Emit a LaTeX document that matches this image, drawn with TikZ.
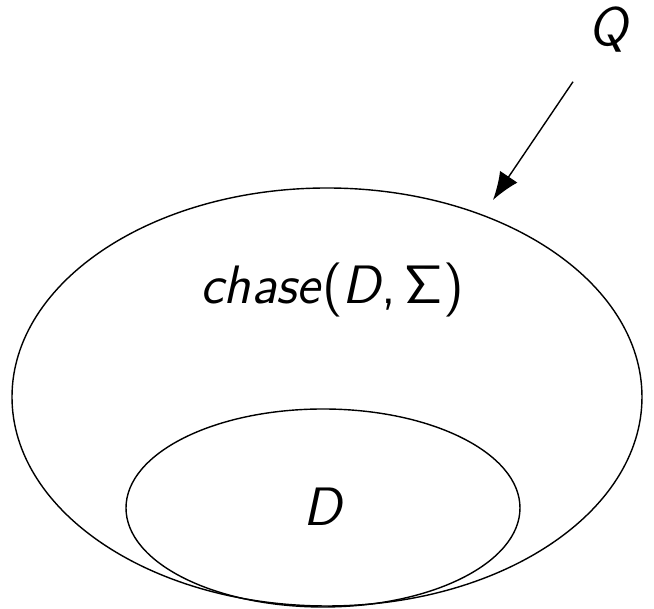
\documentclass[tikz,border=0pt]{standalone}
\usepackage{fix-cm}
\usepackage{amsmath,amssymb}
\usepackage{tikz}
\usetikzlibrary{arrows.meta, positioning, shapes.geometric}
\tikzset{
  setellipse/.style={draw, ellipse, thin, inner sep=0pt},
  setlabel/.style={font=\sffamily\itshape\fontsize{15.4}{18}\selectfont},
  queryarrow/.style={-{Latex[length=2.8mm, width=2.1mm]}, thin},
}
\newcommand{\chaselabel}{\textit{chase}\textup{(}\textit{D}\textup{,}\,\textup{$\mathsf{\Sigma}$}\textup{)}}

\begin{document}
\begin{tikzpicture}[x=1cm, y=1cm]
  \useasboundingbox (0,0) rectangle (6.54,6.09);
  \node[setellipse, minimum width=6.30cm, minimum height=4.18cm] (chase) at (3.27,2.12) {};
  \node[setellipse, minimum width=3.94cm, minimum height=1.98cm] (db) at (3.23,1.01) {};
  \node[setlabel] (chaselbl) at (3.32,3.19) {\chaselabel};
  \node[setlabel] (dlbl) at (3.23,1.02) {D};
  \node[setlabel] (q) at (6.08,5.79) {Q};
  \coordinate (hit) at (4.93,4.09);
  \draw[queryarrow, shorten <=0.2cm] (q) -- (hit);
\end{tikzpicture}
\end{document}
